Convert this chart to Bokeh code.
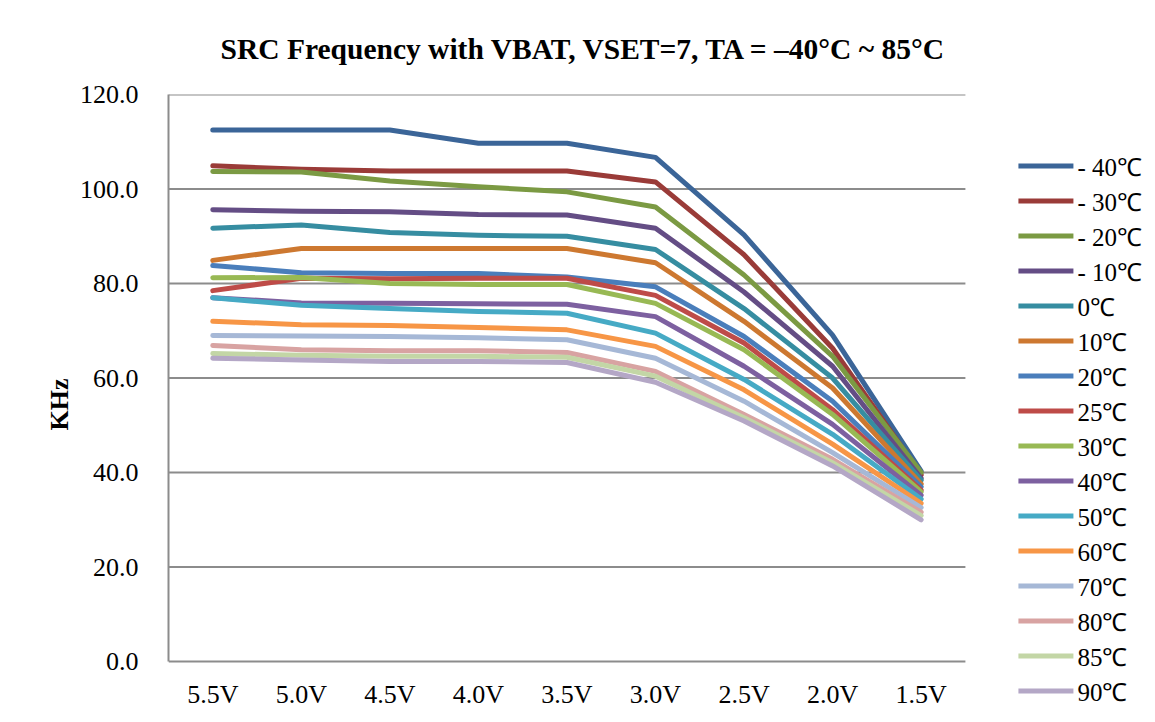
from bokeh.plotting import figure
from bokeh.models import (FactorRange, Range1d, FixedTicker, NumeralTickFormatter, Legend,
                          LegendItem, ColumnDataSource)
from bokeh.embed import file_html
from bokeh.resources import INLINE

voltages = ["5.5V", "5.0V", "4.5V", "4.0V", "3.5V", "3.0V", "2.5V", "2.0V", "1.5V"]
# two empty slots at the right of the axis give room for the legend
pad_slots = [" ", "  "]

labels = ["- 40℃", "- 30℃", "- 20℃", "- 10℃", "0℃", "10℃", "20℃", "25℃",
          "30℃", "40℃", "50℃", "60℃", "70℃", "80℃", "85℃", "90℃"]

t_m40 = [112.5, 112.5, 112.5, 109.7, 109.7, 106.7, 90.3, 69.1, 40.3]
t_m30 = [104.9, 104.2, 103.8, 103.8, 103.8, 101.5, 86.1, 66.3, 39.5]
t_m20 = [103.7, 103.6, 101.7, 100.5, 99.4, 96.2, 81.8, 64.6, 40.0]
t_m10 = [95.6, 95.3, 95.2, 94.6, 94.5, 91.7, 78.2, 62.5, 38.8]
t_0 = [91.7, 92.4, 90.8, 90.2, 90.0, 87.2, 74.7, 60.0, 38.4]
t_10 = [84.9, 87.4, 87.4, 87.4, 87.4, 84.4, 72.0, 57.9, 37.6]
t_20 = [83.8, 82.3, 82.1, 82.1, 81.4, 79.3, 68.8, 55.1, 37.0]
t_25 = [78.5, 81.1, 81.0, 81.1, 81.1, 77.5, 67.4, 53.3, 36.3]
t_30 = [81.2, 81.3, 80.0, 79.8, 79.8, 75.8, 66.0, 52.3, 35.9]
t_40 = [77.0, 75.9, 75.8, 75.7, 75.6, 73.0, 62.5, 50.2, 35.2]
t_50 = [77.0, 75.4, 74.7, 74.1, 73.7, 69.5, 59.7, 48.1, 34.4]
t_60 = [72.0, 71.3, 71.1, 70.7, 70.2, 66.7, 57.5, 46.0, 33.5]
t_70 = [69.0, 68.9, 68.8, 68.5, 68.1, 64.2, 55.1, 44.2, 32.6]
t_80 = [66.9, 66.0, 65.8, 65.8, 65.4, 61.4, 52.3, 42.8, 31.6]
t_85 = [65.2, 64.8, 64.6, 64.6, 64.4, 60.4, 51.6, 42.1, 30.9]
t_90 = [64.2, 63.8, 63.5, 63.5, 63.3, 59.1, 50.9, 41.4, 30.0]

series = [t_m40, t_m30, t_m20, t_m10, t_0, t_10, t_20, t_25,
          t_30, t_40, t_50, t_60, t_70, t_80, t_85, t_90]

colors = ["#3B6598", "#9A3B38", "#7B9A43", "#644D85", "#368DA1", "#CD7830",
          "#4A7EBB", "#BE4B48", "#98B954", "#7D60A0", "#46AAC5", "#F79646",
          "#A6B8D6", "#D8A3A2", "#C3D6A6", "#B4A7C6"]

y_ticks = [0, 20, 40, 60, 80, 100, 120]

FONT = "Liberation Serif"
LEGEND_FONT = "Liberation Serif, serif"

# the frame reaches the bottom of the figure so that the legend is not clipped;
# the value axis starts a little below zero and the category axis sits at zero
p = figure(width=1147, height=714, output_backend="svg", toolbar_location=None,
           x_range=FactorRange(*(voltages + pad_slots), range_padding=0),
           y_range=Range1d(-11.2, 120),
           min_border_left=168, min_border_right=5, min_border_top=94, min_border_bottom=0,
           title="SRC Frequency with VBAT, VSET=7, TA = –40°C ~ 85°C")

p.title.align = "left"
p.title.offset = 52
p.title.text_font = FONT
p.title.text_font_size = "29.5px"
p.title.text_font_style = "bold"
p.title.text_color = "black"
p.title.standoff = 59

p.outline_line_color = None
p.background_fill_color = "white"
p.border_fill_color = "white"

# horizontal grid lines, spanning only the voltage categories
grid_src = ColumnDataSource(dict(
    x0=[(voltages[0], -0.5)] * len(y_ticks),
    x1=[(voltages[-1], 0.5)] * len(y_ticks),
    y=y_ticks))
p.segment(x0="x0", y0="y", x1="x1", y1="y", source=grid_src,
          line_color="#8C8C8C", line_width=2, level="underlay")

items = []
for lab, vals, col in zip(labels, series, colors):
    r = p.line(voltages, vals, line_color=col, line_width=5, line_join="round", line_cap="round")
    items.append(LegendItem(label=lab, renderers=[r]))

p.xgrid.grid_line_color = None
p.ygrid.grid_line_color = None

p.yaxis.ticker = FixedTicker(ticks=y_ticks)
p.yaxis.bounds = (0, 120)
p.yaxis.formatter = NumeralTickFormatter(format="0.0")
p.yaxis.axis_line_color = "#8C8C8C"
p.yaxis.axis_line_width = 2
p.yaxis.major_tick_line_color = None
p.yaxis.minor_tick_line_color = None
p.yaxis.major_label_text_font = FONT
p.yaxis.major_label_text_font_size = "26px"
p.yaxis.major_label_text_color = "black"
p.yaxis.major_label_standoff = 24
p.yaxis.axis_label = "KHz"
p.yaxis.axis_label_text_font = FONT
p.yaxis.axis_label_text_font_size = "26px"
p.yaxis.axis_label_text_font_style = "bold"
p.yaxis.axis_label_text_color = "black"
p.yaxis.axis_label_standoff = 3

p.xaxis.fixed_location = 0
p.xaxis.axis_line_color = None
p.xaxis.major_tick_line_color = None
p.xaxis.minor_tick_line_color = None
p.xaxis.major_label_text_font = FONT
p.xaxis.major_label_text_font_size = "26px"
p.xaxis.major_label_text_color = "black"
p.xaxis.major_label_standoff = 12

legend = Legend(items=items, location="top_right", orientation="vertical",
                glyph_width=55, glyph_height=35, label_height=35, spacing=0,
                label_standoff=4, padding=0, margin=0,
                title=" ", title_text_font_size="12px", title_standoff=40,
                label_text_font=LEGEND_FONT, label_text_font_size="25px",
                label_text_color="black", border_line_color=None,
                background_fill_alpha=0)
p.add_layout(legend, "center")

open("out.html", "w").write(file_html(p, INLINE))
